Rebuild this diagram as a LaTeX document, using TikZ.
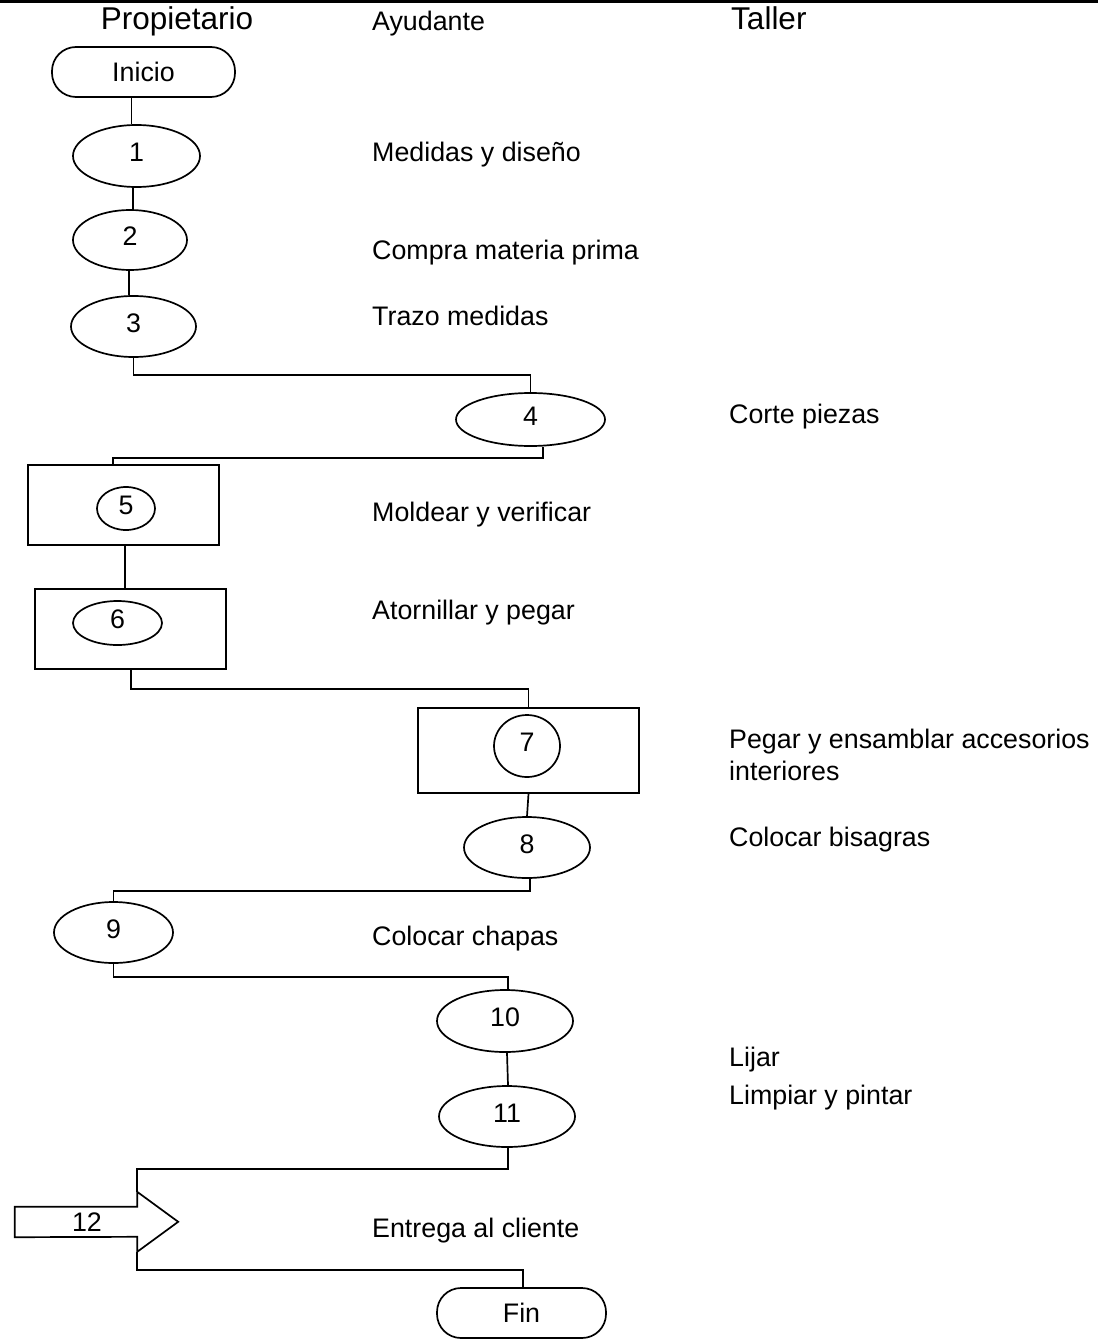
\documentclass[tikz,border=0pt]{standalone}
\usepackage{fontspec}
\setmainfont{Liberation Sans}
\usetikzlibrary{shapes.geometric}

\begin{document}
\begin{tikzpicture}[x=1pt,y=-1pt]

\tikzset{head/.style = {inner sep=0pt, font=\fontsize{31.5}{38}\selectfont}}
\tikzset{lbl/.style = {anchor=base west, inner sep=0pt, font=\fontsize{26.8}{32}\selectfont}}
\tikzset{wh/.style 2 args = {minimum width=#1pt, minimum height=#2pt}}
\tikzset{term/.style = {shape=rectangle, draw, rounded corners=24pt, inner sep=0pt, line width=1.7pt, font=\fontsize{26.8}{32}\selectfont}}
\tikzset{oval/.style = {shape=ellipse, draw, inner sep=0pt, line width=1.7pt, text height=19pt, text depth=8pt, font=\fontsize{26.8}{32}\selectfont}}
\tikzset{task/.style = {shape=rectangle, draw, inner sep=0pt, line width=1.7pt}}
\tikzset{edge/.style = {-, line width=1.7pt}}

\useasboundingbox (0,0) rectangle (1098,1340);
\draw[line width=3.5pt] (0,1.5) -- (1098,1.5);

%lanes
\node[head, anchor=base] (hprop) at (177,30) {Propietario};
\node[lbl] (hayud) at (372,31) {Ayudante};
\node[head, anchor=base west] (htall) at (731,30) {Taller};

%steps
\node[term, wh={183}{50}] (ini) at (143.5,72) {Inicio};
\node[oval, wh={127}{62}] (e1) at (136.5,156) {1};
\node[oval, wh={114}{60}] (e2) at (130,240) {2};
\node[oval, wh={125}{61}] (e3) at (133.5,326.5) {3};
\node[oval, wh={149}{53}] (e4) at (530.5,419.5) {4};
\node[task, wh={191}{80}] (b5) at (123.5,505) {};
\node[oval, wh={58}{43}] (e5) at (126,508.5) {5};
\node[task, wh={191}{80}] (b6) at (130.5,629) {};
\node[oval, wh={89}{44}] (e6) at (117.5,623) {6};
\node[task, wh={221}{85}] (b7) at (528.5,750.5) {};
\node[oval, wh={66}{62}] (e7) at (527,746) {7};
\node[oval, wh={126}{61}] (e8) at (527,847.5) {8};
\node[oval, wh={119}{61}] (e9) at (113.5,932.5) {9};
\node[oval, wh={136}{62}] (e10) at (505,1021) {10};
\node[oval, wh={136}{61}] (e11) at (507,1116.5) {11};
\node[wh={122}{30}, inner sep=0pt, font=\fontsize{26.8}{32}\selectfont] (a12) at (76,1222) {\hspace*{22pt}12};
\draw[edge] (a12.north west) -- (a12.north east) -- ++(0,-15) coordinate (a12top)
  -- ++(41,30) -- ++(-41,30) coordinate (a12bot) -- ++(0,-15) -- (a12.south west) -- cycle;
\node[term, wh={169}{50}] (fin) at (521.5,1313) {Fin};

%labels
\node[lbl] (l1) at (372,162) {Medidas y diseño};
\node[lbl] (l2) at (372,259) {Compra materia prima};
\node[lbl] (l3) at (372,325) {Trazo medidas};
\node[lbl] (l4) at (729,423) {Corte piezas};
\node[lbl] (l5) at (372,521) {Moldear y verificar};
\node[lbl] (l6) at (372,619) {Atornillar y pegar};
\node[lbl] (l7) at (729,748) {Pegar y ensamblar accesorios};
\node[lbl] (l7b) at (729,780) {interiores};
\node[lbl] (l8) at (729,846) {Colocar bisagras};
\node[lbl] (l9) at (372,945) {Colocar chapas};
\node[lbl] (l10) at (729,1066) {Lijar};
\node[lbl] (l11) at (729,1104) {Limpiar y pintar};
\node[lbl] (l12) at (372,1237) {Entrega al cliente};

%edges
\draw[edge] ([xshift=-12pt]ini.south) -- ([xshift=-5pt]e1.north);
\draw[edge] ([xshift=-3.5pt]e1.south) -- ([xshift=3pt]e2.north);
\draw[edge] ([xshift=-1pt]e2.south) -- ([xshift=-4.5pt]e3.north);
\draw[edge] (e3.south) -- ++(0,17) -| (e4.north);
\draw[edge] ([xshift=12.5pt]e4.south) -- ++(0,11) -| ([xshift=-10.5pt]b5.north);
\draw[edge] ([xshift=1.5pt]b5.south) -- ([xshift=-5.5pt]b6.north);
\draw[edge] ([xshift=0.5pt]b6.south) -- ++(0,19) -| (b7.north);
\draw[edge] (b7.south) -- (e8.north);
\draw[edge] ([xshift=3pt]e8.south) -- ++(0,12) -| (e9.north);
\draw[edge] (e9.south) -- ++(0,13) -| ([xshift=3pt]e10.north);
\draw[edge] ([xshift=2pt]e10.south) -- ([xshift=1pt]e11.north);
\draw[edge] ([xshift=1pt]e11.south) -- ++(0,21) -| (a12top);
\draw[edge] (a12bot) -- ++(0,18) -| ([xshift=1.5pt]fin.north);
\end{tikzpicture}
\end{document}
